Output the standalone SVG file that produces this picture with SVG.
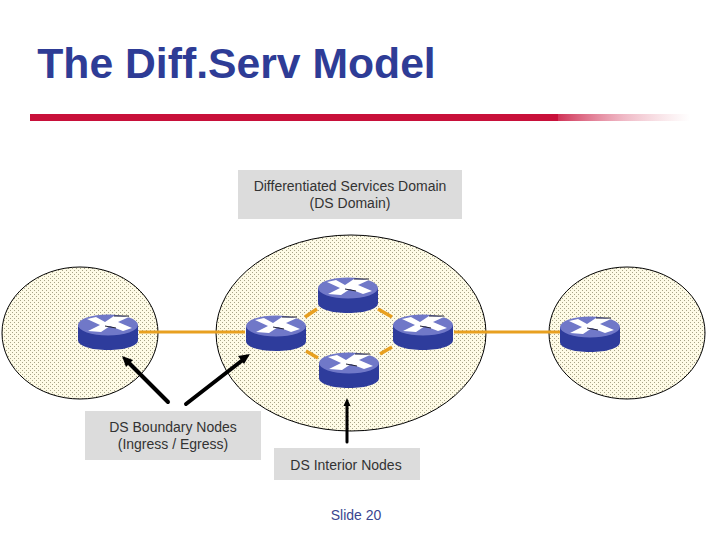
<svg xmlns="http://www.w3.org/2000/svg" xmlns:xlink="http://www.w3.org/1999/xlink" width="720" height="540" viewBox="0 0 720 540">
<style>
text{font-family:"Liberation Sans",Arial,sans-serif;text-anchor:middle;font-size:14px;fill:#333}
.dom{fill:url(#dots);stroke:#000;stroke-width:1}
.lab{fill:#dcdcdc}
.org{stroke:#e8a020;stroke-width:3;fill:none}
.dash{stroke:#e8a020;stroke-width:3.5;fill:none}
.blk{stroke:#000;stroke-width:4;stroke-linecap:round;fill:none}
.head{fill:#000}
</style>
<defs>
<pattern id="dots" width="4" height="4" patternUnits="userSpaceOnUse">
<rect width="4" height="4" fill="#fefbe6"/>
<rect x="0" y="0" width="1" height="1" fill="#a8a488"/>
<rect x="2" y="2" width="1" height="1" fill="#a8a488"/>
</pattern>
<linearGradient id="fade"><stop offset="0" stop-color="#c8103a" stop-opacity=".85"/><stop offset=".5" stop-color="#d85070" stop-opacity=".4"/><stop offset="1" stop-color="#e08090" stop-opacity="0"/></linearGradient>
<g id="router">
<path d="M-30,-8V7C-30,13 -17,17 0,17C17,17 30,13 30,7V-8Z" fill="#2e3c9c"/>
<ellipse cx="0" cy="-8" rx="30" ry="10.500" fill="#7078c8"/>
<path d="M-21,-14L-12,-16L-3,-11L6,-17L21,-16L10,-11L24,-5L15,-2L2,-7L-7,-1L-20,-2L-8,-8Z" fill="#fff"/>
<path d="M6,-17L21,-17M-3,-7L8,-5" stroke="#223" stroke-width="1" fill="none"/>
</g>
</defs>
<rect width="720" height="540" fill="#fff"/>
<text x="236.500" y="78" style="font-size:42.700px;font-weight:bold;fill:#2e3c96">The Diff.Serv Model</text>
<rect x="30" y="114" width="528" height="7" fill="#c8103a"/>
<rect x="558" y="114" width="132" height="7" fill="url(#fade)"/>
<g id="domain-left"><ellipse cx="80" cy="333" rx="78" ry="66" class="dom"/></g>
<g id="domain-center"><ellipse cx="351" cy="333" rx="135" ry="98" class="dom"/></g>
<g id="domain-right"><ellipse cx="627" cy="333" rx="78" ry="66" class="dom"/></g>
<g id="connectors">
<path class="org" d="M139 332H245M454 332H560"/>
<path class="dash" d="M305 317L317 309M378 309L392 317M380 354L392 347M306 351L318 358"/>
<path class="blk" d="M168 402L128 362"/><path class="head" d="M122 356L133 360L126 367Z"/>
<path class="blk" d="M186 404L244 359"/><path class="head" d="M250 354L244 364L238 356Z"/>
<path class="blk" style="stroke-width:3" d="M347 442V404"/><path class="head" d="M347 398L350.500 406H343.500Z"/>
</g>
<g id="router-left"><use xlink:href="#router" href="#router" x="108" y="333"/></g>
<g id="router-a"><use xlink:href="#router" href="#router" x="276" y="334"/></g>
<g id="router-top"><use xlink:href="#router" href="#router" x="348" y="296"/></g>
<g id="router-b"><use xlink:href="#router" href="#router" x="423" y="333"/></g>
<g id="router-bottom"><use xlink:href="#router" href="#router" x="349" y="371"/></g>
<g id="router-right"><use xlink:href="#router" href="#router" x="590" y="335"/></g>
<g id="label-domain"><rect class="lab" x="238" y="170" width="224" height="49"/><text x="350" y="191">Differentiated Services Domain</text><text x="350" y="208">(DS Domain)</text></g>
<g id="label-boundary"><rect class="lab" x="85" y="411" width="176" height="49"/><text x="173" y="432">DS Boundary Nodes</text><text x="173" y="449">(Ingress / Egress)</text></g>
<g id="label-interior"><rect class="lab" x="274" y="448" width="146" height="32"/><text x="346" y="470">DS Interior Nodes</text></g>
<text x="356" y="520" style="fill:#3a4590">Slide 20</text>
</svg>
